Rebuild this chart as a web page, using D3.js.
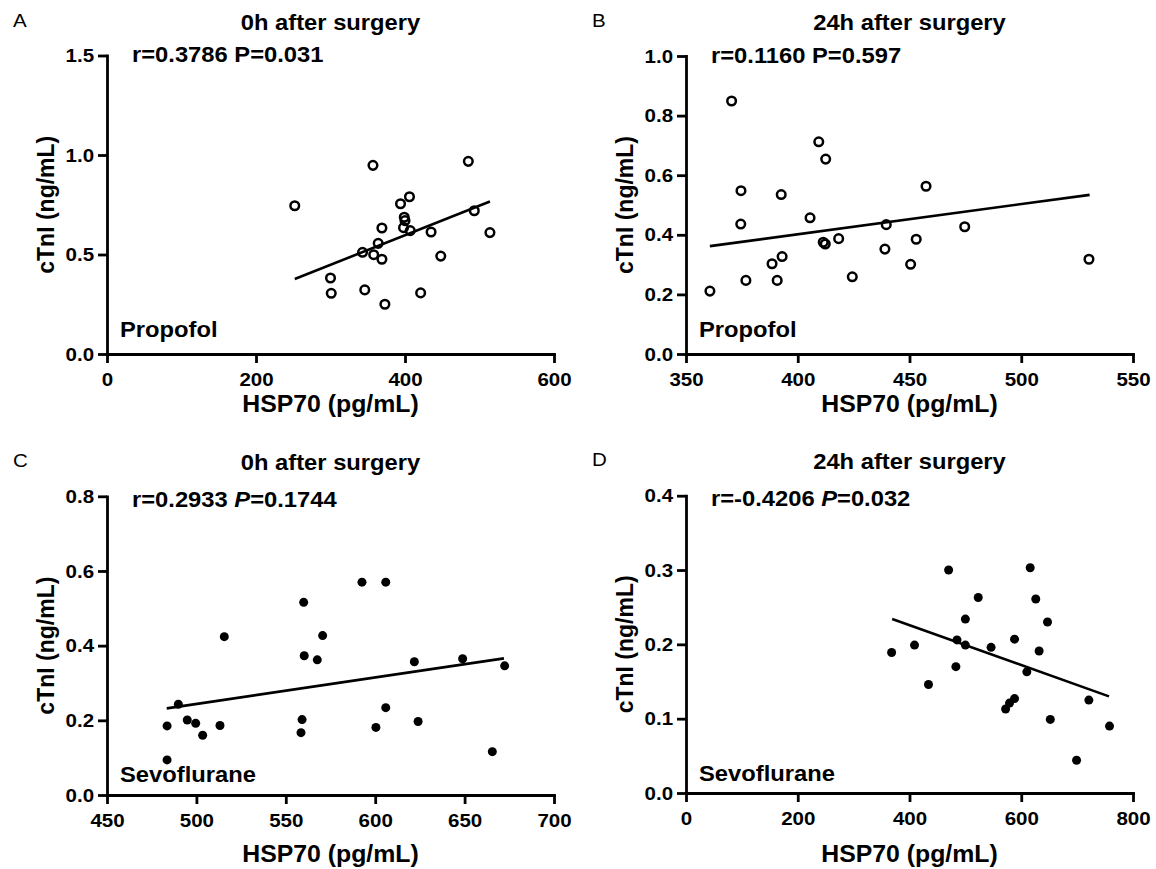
<!DOCTYPE html>
<html lang="en">
<head>
  <meta charset="UTF-8" />
  <title>HSP70 vs cTnI</title>
  <style>
  body {
    margin: 0;
    background: #fff;
    font-family: "Liberation Sans", Arial, sans-serif;
  }
  svg {
    display: block;
  }
  .axis path, .axis line {
    stroke: #000;
    stroke-width: 2.8;
  }
  .axis text {
    font-family: "Liberation Sans", Arial, sans-serif;
    font-size: 19px;
    font-weight: bold;
    fill: #000;
  }
  </style>
  <script src="https://d3js.org/d3.v7.min.js"></script>
</head>
<body>
  <div id="chart"></div>
  <script>
    // Panel A: Propofol, 0h after surgery
    const propofol0hX = [252, 357, 485, 406, 394, 399, 400, 398, 407, 369, 435, 493, 514, 364, 343, 358, 369, 448, 300, 301, 346, 373, 421];
    const propofol0hY = [0.745, 0.948, 0.968, 0.790, 0.755, 0.687, 0.670, 0.635, 0.620, 0.633, 0.613, 0.720, 0.610, 0.556, 0.511, 0.499, 0.476, 0.492, 0.382, 0.305, 0.322, 0.250, 0.307];
    const propofol0hFit = [[252, 0.377], [514, 0.766]];

    // Panel B: Propofol, 24h after surgery
    const propofol24hX = [370.4, 409.4, 412.5, 374.6, 392.6, 457.4, 374.5, 405.5, 439.6, 474.7, 411.4, 412.3, 418.3, 453, 439, 393, 388.5, 450.5, 376.8, 390.8, 424.4, 360.7, 530.3];
    const propofol24hY = [0.849, 0.712, 0.654, 0.548, 0.535, 0.563, 0.436, 0.457, 0.434, 0.427, 0.375, 0.369, 0.387, 0.385, 0.352, 0.327, 0.303, 0.301, 0.247, 0.247, 0.259, 0.211, 0.318];
    const propofol24hFit = [[360.7, 0.362], [530.6, 0.534]];

    // Panel C: Sevoflurane, 0h after surgery
    const sevo0hX = [592.6, 605.9, 560, 515.6, 570.6, 560.3, 567.6, 621.9, 648.9, 672.4, 489.9, 483.6, 494.9, 499.6, 503.5, 513.2, 559.1, 558.5, 605.9, 600.4, 624, 483.6, 665.5];
    const sevo0hY = [0.570, 0.570, 0.516, 0.424, 0.427, 0.373, 0.362, 0.357, 0.365, 0.346, 0.243, 0.185, 0.201, 0.192, 0.160, 0.186, 0.202, 0.167, 0.234, 0.181, 0.197, 0.094, 0.116];
    const sevo0hFit = [[483.4, 0.232], [672, 0.366]];

    // Panel D: Sevoflurane, 24h after surgery
    const sevo24hX = [470, 616, 523, 626, 500, 647, 368, 409, 485, 500, 546, 588, 632, 483, 610, 434, 588, 579, 572, 652, 721, 699, 758];
    const sevo24hY = [0.300, 0.303, 0.263, 0.261, 0.234, 0.230, 0.189, 0.199, 0.206, 0.199, 0.196, 0.207, 0.191, 0.170, 0.163, 0.146, 0.127, 0.121, 0.113, 0.099, 0.125, 0.044, 0.090];
    const sevo24hFit = [[369, 0.234], [757, 0.130]];

    // Axis ticks
    const ticksA_x = [0, 200, 400, 600], ticksA_y = [0, 0.5, 1.0, 1.5];
    const ticksB_x = [350, 400, 450, 500, 550], ticksB_y = [0, 0.2, 0.4, 0.6, 0.8, 1.0];
    const ticksC_x = [450, 500, 550, 600, 650, 700], ticksC_y = [0, 0.2, 0.4, 0.6, 0.8];
    const ticksD_x = [0, 200, 400, 600, 800], ticksD_y = [0, 0.1, 0.2, 0.3, 0.4];

    const width = 1156, height = 869;
    const sx = 1.08; // the source image is slightly stretched horizontally

    const svg = d3.select("#chart").append("svg")
      .attr("width", width)
      .attr("height", height);

    const panels = [
      { letter: "A", title: "0h after surgery", group: "Propofol", stats: ["r=0.3786 P=0.031"], filled: false,
        xs: propofol0hX, ys: propofol0hY, fit: propofol0hFit, tx: ticksA_x, ty: ticksA_y,
        left: 107, right: 554, top: 55.5, bottom: 354, titleY: 30, statsY: 62, groupY: 337, xTitleY: 412 },
      { letter: "B", title: "24h after surgery", group: "Propofol", stats: ["r=0.1160 P=0.597"], filled: false,
        xs: propofol24hX, ys: propofol24hY, fit: propofol24hFit, tx: ticksB_x, ty: ticksB_y,
        left: 686, right: 1133, top: 56, bottom: 354, titleY: 30, statsY: 63, groupY: 337, xTitleY: 412 },
      { letter: "C", title: "0h after surgery", group: "Sevoflurane", stats: ["r=0.2933 ", "P", "=0.1744"], filled: true,
        xs: sevo0hX, ys: sevo0hY, fit: sevo0hFit, tx: ticksC_x, ty: ticksC_y,
        left: 107, right: 554, top: 496.3, bottom: 795, titleY: 470, statsY: 507, groupY: 782, xTitleY: 862 },
      { letter: "D", title: "24h after surgery", group: "Sevoflurane", stats: ["r=-0.4206 ", "P", "=0.032"], filled: true,
        xs: sevo24hX, ys: sevo24hY, fit: sevo24hFit, tx: ticksD_x, ty: ticksD_y,
        left: 686, right: 1133, top: 495.7, bottom: 793, titleY: 469, statsY: 506, groupY: 781, xTitleY: 862 }
    ];

    function addText(g, x, y, str, size, bold, anchor) {
      return g.append("text")
        .attr("transform", `translate(${x},${y}) scale(${sx},1)`)
        .attr("font-size", size)
        .attr("font-weight", bold ? "bold" : "normal")
        .attr("text-anchor", anchor || "start")
        .attr("fill", "#000")
        .text(str);
    }

    panels.forEach(p => {
      const g = svg.append("g");
      const xDom = [p.tx[0], p.tx[p.tx.length - 1]];
      const yDom = [p.ty[0], p.ty[p.ty.length - 1]];
      const x = d3.scaleLinear().domain(xDom).range([p.left, p.right]);
      const y = d3.scaleLinear().domain(yDom).range([p.bottom, p.top]);

      // axes
      const xAxis = g.append("g")
        .attr("class", "axis")
        .attr("transform", `translate(0,${p.bottom})`)
        .call(d3.axisBottom(x).tickValues(p.tx).tickSize(9).tickSizeOuter(0).tickPadding(10).tickFormat(d3.format("d")));
      xAxis.selectAll("text").attr("transform", `scale(${sx},1)`);

      const yAxis = g.append("g")
        .attr("class", "axis")
        .attr("transform", `translate(${p.left},0)`)
        .call(d3.axisLeft(y).tickValues(p.ty).tickSize(9).tickSizeOuter(0).tickPadding(3).tickFormat(d3.format(".1f")));
      yAxis.selectAll("text").attr("transform", `scale(${sx},1)`);
      g.selectAll(".axis path").attr("stroke-linecap", "square");

      // regression line
      g.append("line")
        .attr("x1", x(p.fit[0][0])).attr("y1", y(p.fit[0][1]))
        .attr("x2", x(p.fit[1][0])).attr("y2", y(p.fit[1][1]))
        .attr("stroke", "#000")
        .attr("stroke-width", 2.6);

      // points
      const pts = p.xs.map((v, i) => [v, p.ys[i]]);
      g.selectAll("circle")
        .data(pts)
        .enter().append("circle")
        .attr("cx", d => x(d[0]))
        .attr("cy", d => y(d[1]))
        .attr("r", p.filled ? 4.5 : 4.3)
        .attr("fill", p.filled ? "#000" : "none")
        .attr("stroke", p.filled ? "none" : "#000")
        .attr("stroke-width", 2.5);

      // texts
      addText(g, p.left - 94, p.titleY - 3, p.letter, 19, false);
      addText(g, (p.left + p.right) / 2, p.titleY, p.title, 22, true, "middle");
      const st = addText(g, p.left + 25, p.statsY, "", 22, true);
      p.stats.forEach((s, i) => {
        st.append("tspan").attr("font-style", i === 1 ? "italic" : "normal").text(s);
      });
      addText(g, p.left + 13, p.groupY, p.group, 22, true);
      addText(g, (p.left + p.right) / 2, p.xTitleY, "HSP70 (pg/mL)", 23, true, "middle");

      g.append("text")
        .attr("transform", `translate(${p.left - 53},${(p.top + p.bottom) / 2}) rotate(-90)`)
        .attr("font-size", 23)
        .attr("font-weight", "bold")
        .attr("text-anchor", "middle")
        .attr("fill", "#000")
        .text("cTnI (ng/mL)");
    });
  </script>
</body>
</html>
